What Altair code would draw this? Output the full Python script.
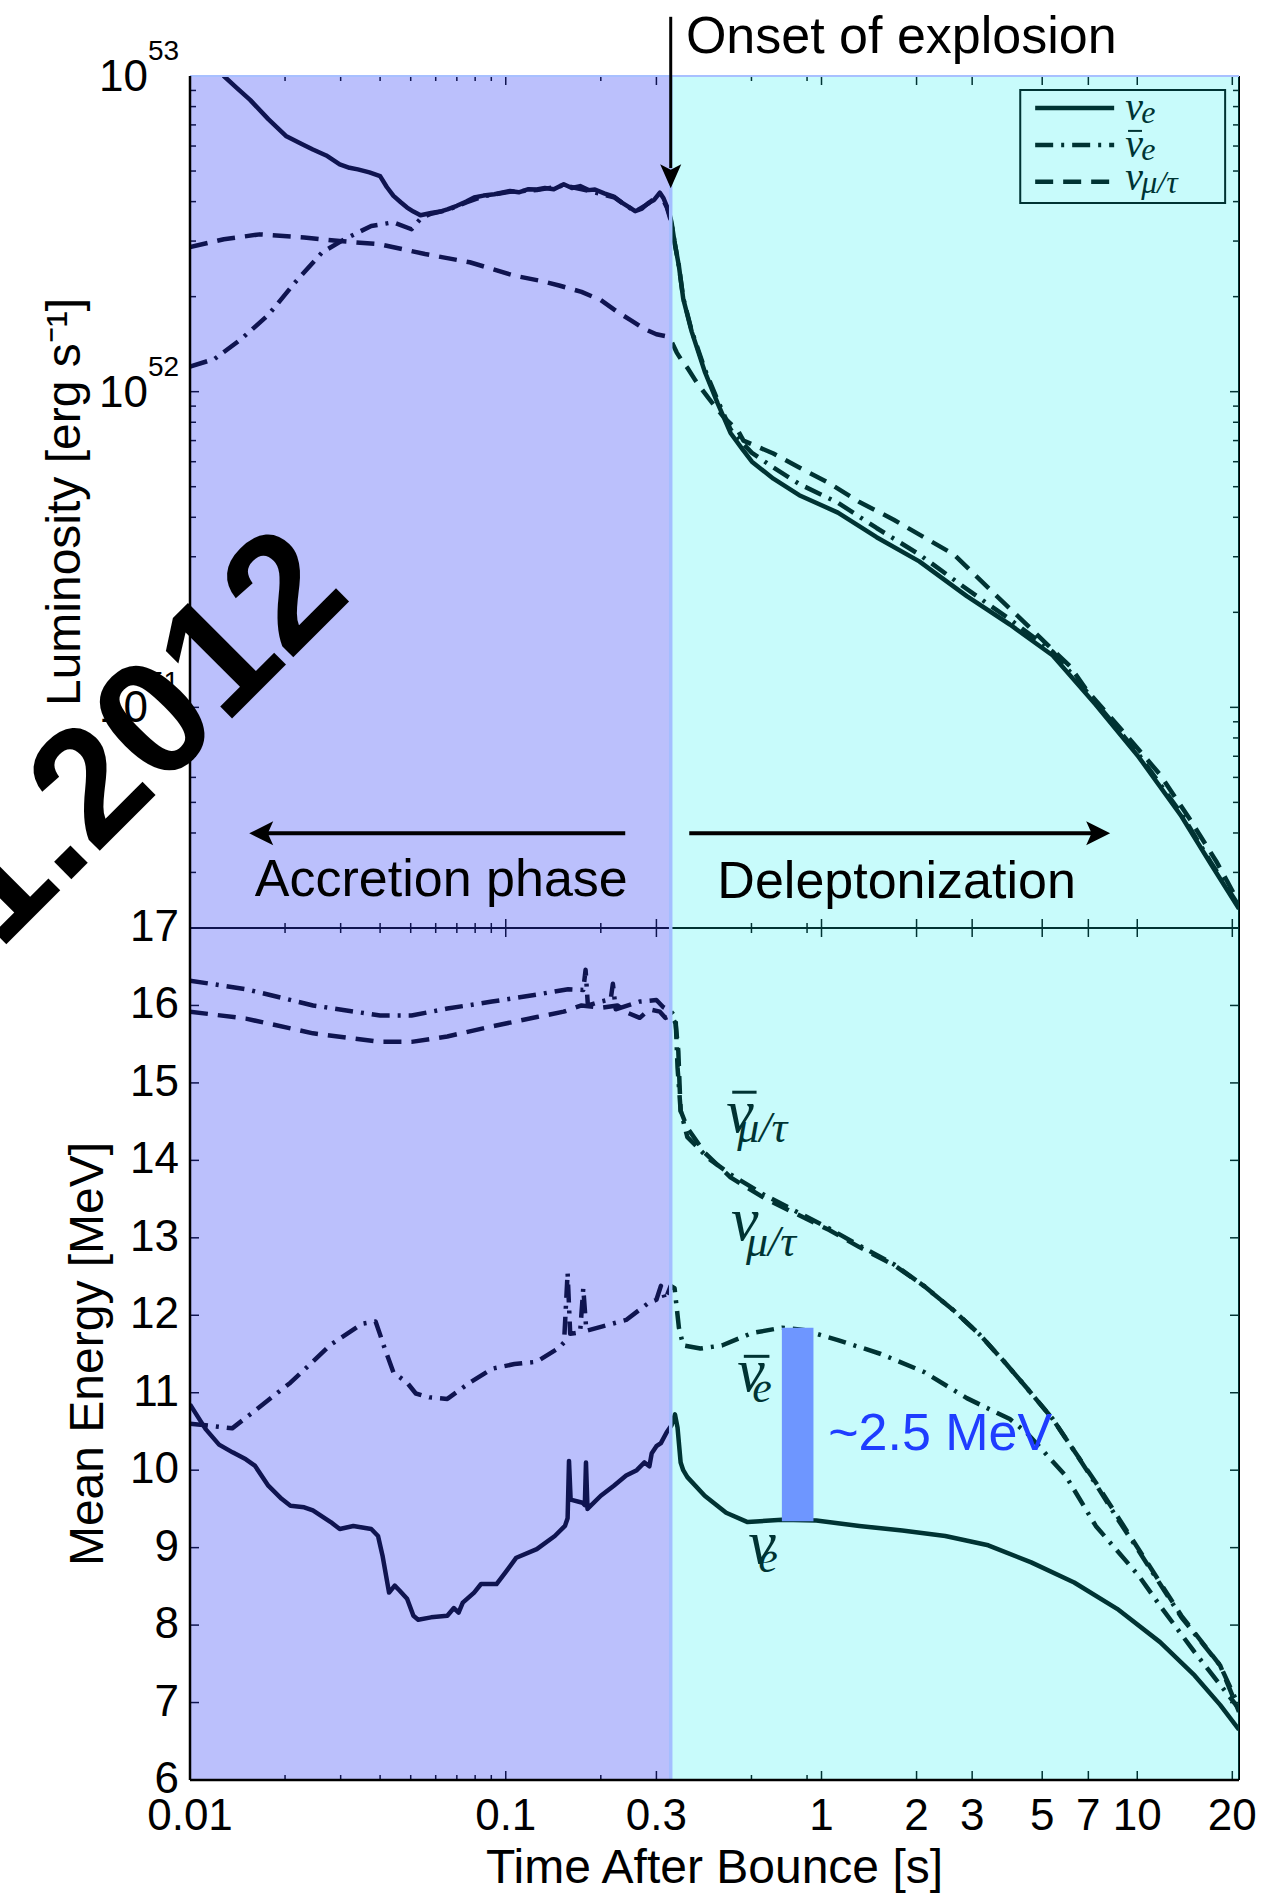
import altair as alt
import pandas as pd

SANS = "Liberation Sans"
SERIF = "Liberation Serif"

# ------------------------------------------------------------------ data
# Upper panel: time after bounce [s] and luminosity [10^52 erg/s]
lum_nue_t = [0.0100, 0.0128, 0.0140, 0.0155, 0.0177, 0.0202, 0.0225, 0.0245, 0.0270, 0.0298,
             0.0320, 0.0340, 0.0370, 0.0400, 0.0420, 0.0441, 0.0465, 0.0487, 0.0510, 0.0537,
             0.0580, 0.0620, 0.0653, 0.0700, 0.0750, 0.0794, 0.0850, 0.0920, 0.1031, 0.1100,
             0.1180, 0.1254, 0.1330, 0.1420, 0.1526, 0.1620, 0.1720, 0.1830, 0.1917, 0.2050,
             0.2200, 0.2332, 0.2450, 0.2570, 0.2700, 0.2836, 0.2950, 0.3077, 0.3160, 0.3234,
             0.3300, 0.3350, 0.3420, 0.3535, 0.3648, 0.3880, 0.4266, 0.4687, 0.5150, 0.5600,
             0.6020, 0.7040, 0.8500, 1.127, 1.494, 2.040, 2.885, 3.950, 5.400, 7.380,
             10.10, 13.80, 17.20, 21.00]
lum_nue = [12.9, 10.0, 9.2, 8.4, 7.3, 6.44, 6.1, 5.85, 5.6, 5.25,
           5.12, 5.06, 4.95, 4.82, 4.45, 4.17, 3.98, 3.83, 3.72, 3.62,
           3.68, 3.72, 3.78, 3.88, 4.0, 4.12, 4.18, 4.22, 4.32, 4.28,
           4.38, 4.37, 4.42, 4.38, 4.54, 4.42, 4.48, 4.35, 4.37, 4.25,
           4.15, 3.97, 3.85, 3.73, 3.80, 3.97, 4.05, 4.27, 4.10, 3.87,
           3.65, 3.44, 3.0, 2.5, 1.97, 1.55, 1.16, 0.92, 0.74, 0.66,
           0.60, 0.53, 0.47, 0.414, 0.346, 0.29, 0.225, 0.183, 0.146, 0.102,
           0.0697, 0.0452, 0.0316, 0.023]

lum_anue_t = [0.0100, 0.01197, 0.01456, 0.0177, 0.02153, 0.02618, 0.03083, 0.0375, 0.0441, 0.0503,
              0.0540, 0.0580, 0.0653, 0.0750, 0.0850, 0.1031, 0.1254, 0.1526, 0.1830, 0.2200,
              0.2570, 0.2836, 0.3077, 0.3234, 0.3350, 0.3420, 0.3535, 0.3648, 0.3880, 0.4266,
              0.4687, 0.5150, 0.5600, 0.6020, 0.7040, 0.8500, 1.127, 1.494, 2.040, 2.885,
              3.950, 5.400, 7.380, 10.10, 13.80, 17.20, 21.00]
lum_anue = [1.20, 1.27, 1.47, 1.75, 2.22, 2.76, 3.04, 3.35, 3.44, 3.27,
            3.55, 3.66, 3.76, 3.98, 4.16, 4.30, 4.35, 4.50, 4.33, 4.13,
            3.72, 3.95, 4.24, 3.85, 3.42, 3.0, 2.5, 1.98, 1.56, 1.18,
            0.94, 0.76, 0.69, 0.64, 0.575, 0.51, 0.445, 0.37, 0.305, 0.237,
            0.19, 0.15, 0.104, 0.071, 0.046, 0.032, 0.0235]

lum_nux_t = [0.0100, 0.0128, 0.0166, 0.0230, 0.0298, 0.0400, 0.0555, 0.0769, 0.1066, 0.1300,
             0.1476, 0.1738, 0.2000, 0.2257, 0.2500, 0.2745, 0.3000, 0.3200, 0.3350, 0.3480,
             0.3600, 0.3760, 0.4000, 0.4400, 0.4900, 0.5450, 0.5660, 0.7040, 0.8500, 1.058,
             1.318, 1.693, 2.108, 2.626, 3.070, 3.590, 4.340, 5.230, 6.120, 6.930,
             8.110, 9.480, 11.80, 14.70, 17.80, 21.00]
lum_nux = [2.87, 3.04, 3.15, 3.08, 3.00, 2.93, 2.73, 2.57, 2.33, 2.24,
           2.17, 2.07, 1.95, 1.79, 1.68, 1.58, 1.52, 1.50, 1.44, 1.33,
           1.26, 1.19, 1.08, 0.95, 0.83, 0.75, 0.70, 0.637, 0.575, 0.513,
           0.447, 0.393, 0.346, 0.305, 0.262, 0.225, 0.188, 0.157, 0.135, 0.113,
           0.0946, 0.0791, 0.0613, 0.0441, 0.0325, 0.024]

# Lower panel: time after bounce [s] and mean energy [MeV]
en_nue_t = [0.0100, 0.01121, 0.01236, 0.01364, 0.01503, 0.01604, 0.0177, 0.0195, 0.0208, 0.0230,
            0.0245, 0.0279, 0.0298, 0.0329, 0.0375, 0.0394, 0.0407, 0.0427, 0.0445, 0.0460,
            0.0487, 0.0510, 0.0528, 0.0580, 0.0653, 0.0685, 0.0709, 0.0731, 0.0794, 0.0835,
            0.0935, 0.0998, 0.1080, 0.1254, 0.1430, 0.1540, 0.1570, 0.1586, 0.1605, 0.1750,
            0.1780, 0.1795, 0.1815, 0.2000, 0.2200, 0.2406, 0.2600, 0.2750, 0.2850, 0.2900,
            0.3000, 0.3100, 0.3234, 0.3350, 0.3435, 0.3500, 0.3580, 0.3648, 0.3760, 0.4266,
            0.4989, 0.5834, 0.7500, 0.9630, 1.318, 1.803, 2.466, 3.373, 4.615, 6.313,
            8.635, 11.81, 15.19, 18.30, 21.00]
en_nue = [10.85, 10.53, 10.33, 10.23, 10.14, 10.06, 9.80, 9.63, 9.54, 9.52,
          9.48, 9.33, 9.24, 9.28, 9.24, 9.15, 8.90, 8.42, 8.51, 8.45,
          8.34, 8.12, 8.07, 8.10, 8.12, 8.22, 8.16, 8.29, 8.42, 8.53,
          8.53, 8.68, 8.87, 8.98, 9.15, 9.28, 9.38, 10.12, 9.62, 9.58,
          9.55, 10.10, 9.50, 9.67, 9.80, 9.93, 10.00, 10.10, 10.05, 10.22,
          10.31, 10.35, 10.49, 10.58, 10.72, 10.55, 10.10, 10.00, 9.91, 9.67,
          9.45, 9.33, 9.36, 9.35, 9.28, 9.22, 9.15, 9.03, 8.81, 8.55,
          8.21, 7.78, 7.35, 6.97, 6.65]

en_anue_t = [0.0100, 0.01121, 0.0136, 0.0155, 0.0208, 0.0279, 0.0351, 0.0387, 0.0400, 0.0413,
             0.0441, 0.0487, 0.0519, 0.0573, 0.0653, 0.0769, 0.0905, 0.1066, 0.1254, 0.1476,
             0.1530, 0.1570, 0.1600, 0.1720, 0.1760, 0.1800, 0.2000, 0.2406, 0.2836, 0.3000,
             0.3100, 0.3200, 0.3330, 0.3425, 0.3535, 0.3648, 0.4135, 0.4836, 0.6020, 0.7500,
             0.8770, 1.127, 1.542, 2.108, 2.885, 3.950, 4.470, 5.930, 7.390, 10.10,
             11.81, 15.19, 21.00]
en_anue = [10.60, 10.58, 10.54, 10.72, 11.13, 11.62, 11.89, 11.92, 11.75, 11.58,
           11.26, 11.13, 10.99, 10.94, 10.92, 11.13, 11.31, 11.37, 11.40, 11.58,
           11.65, 12.55, 11.76, 11.78, 12.35, 11.80, 11.85, 11.94, 12.16, 12.20,
           12.38, 12.20, 12.38, 12.35, 11.84, 11.61, 11.57, 11.61, 11.77, 11.84,
           11.81, 11.68, 11.50, 11.27, 10.93, 10.66, 10.48, 9.93, 9.28, 8.64,
           8.25, 7.65, 6.92]

en_anux_t = [0.0100, 0.01503, 0.02453, 0.0400, 0.0503, 0.0653, 0.0905, 0.1254, 0.1576, 0.1760,
             0.1790, 0.1820, 0.2000, 0.2150, 0.2184, 0.2230, 0.2657, 0.3000, 0.3150, 0.3340,
             0.3450, 0.3500, 0.3580, 0.3760, 0.4400, 0.5150, 0.6610, 0.8500, 1.058, 1.318,
             1.693, 2.108, 2.626, 3.170, 3.830, 4.470, 5.400, 6.310, 7.390, 8.635,
             10.10, 11.81, 13.80, 18.30, 21.00]
en_anux = [16.32, 16.21, 16.00, 15.87, 15.87, 15.96, 16.05, 16.14, 16.21, 16.20,
           16.46, 16.00, 16.05, 16.08, 16.28, 15.95, 16.05, 16.07, 15.98, 15.92,
           15.85, 15.20, 14.64, 14.30, 14.02, 13.82, 13.55, 13.32, 13.12, 12.90,
           12.66, 12.38, 12.06, 11.75, 11.38, 11.06, 10.66, 10.25, 9.82, 9.38,
           8.96, 8.53, 8.10, 7.48, 6.95]

en_nux_t = [0.0100, 0.01503, 0.02453, 0.0400, 0.0503, 0.0653, 0.0905, 0.1254, 0.1526, 0.1738,
            0.2000, 0.2257, 0.2450, 0.2657, 0.2850, 0.3077, 0.3200, 0.3340, 0.3450, 0.3520,
            0.3550, 0.3580, 0.3760, 0.4266, 0.5150, 0.6610, 0.8500, 1.058, 1.318, 1.693,
            2.108, 2.626, 3.170, 3.830, 4.470, 5.400, 6.310, 7.390, 8.635, 10.10,
            11.81, 13.80, 18.30, 21.00]
en_nux = [15.92, 15.83, 15.64, 15.53, 15.53, 15.60, 15.73, 15.85, 15.92, 16.00,
          15.97, 16.00, 15.90, 15.84, 15.95, 15.92, 15.84, 15.87, 15.77, 15.41,
          15.00, 14.64, 14.42, 14.10, 13.78, 13.51, 13.29, 13.10, 12.88, 12.65,
          12.38, 12.06, 11.75, 11.38, 11.06, 10.66, 10.25, 9.84, 9.41, 8.98,
          8.55, 8.12, 7.48, 6.88]

x_tick_values = [0.01, 0.1, 0.3, 1, 2, 3, 5, 7, 10, 20]
x_tick_labels = ["0.01", "0.1", "0.3", "1", "2", "3", "5", "7", "10", "20"]
x_minor_values = [0.02, 0.03, 0.04, 0.05, 0.06, 0.07, 0.08, 0.09, 0.2, 0.6, 0.9]
lum_exponents = [53, 52, 51]
lum_minor_values = [3e50, 4e50, 5e50, 6e50, 7e50, 8e50, 9e50,
                    2e51, 3e51, 4e51, 5e51, 6e51, 7e51, 8e51, 9e51,
                    2e52, 3e52, 4e52, 5e52, 6e52, 7e52, 8e52, 9e52]
energy_values = [6, 7, 8, 9, 10, 11, 12, 13, 14, 15, 16, 17]

t_explosion = 0.333
t_range = [0.01, 21.0]
lum_range = [2.0e50, 1.0e53]
energy_range = [6, 17]
UNIT52 = 1e52

# ------------------------------------------------------------------ geometry / scales
W = 1049
HP = 852
H = 2 * HP

xs = alt.Scale(type="log", domain=t_range, nice=False)
ys_top = alt.Scale(type="log", domain=lum_range, range=[HP, 0], nice=False)
ys_bot = alt.Scale(type="linear", domain=energy_range, range=[H, HP], nice=False, zero=False)

DASH = [18, 10]
DASHDOT = [18, 8, 3, 8]


def one():
    return pd.DataFrame({"k": [0]})


def X(field="t"):
    return alt.X(f"{field}:Q", scale=xs, axis=None)


def Y(field, sc):
    return alt.Y(f"{field}:Q", scale=sc, axis=None)


def curve(t, v, sc, dash=None, mult=1.0):
    df = pd.DataFrame({"t": t, "v": [a * mult for a in v]})
    props = dict(color="black", strokeWidth=4.5, clip=True, strokeJoin="round")
    if dash is not None:
        props["strokeDash"] = dash
    return alt.Chart(df).mark_line(**props).encode(x=X(), y=Y("v", sc))


layers = []

# ---- data curves (drawn black, tinted by the translucent phase patches on top)
layers.append(curve(en_nue_t, en_nue, ys_bot))
layers.append(curve(en_anue_t, en_anue, ys_bot, dash=DASHDOT))
layers.append(curve(en_anux_t, en_anux, ys_bot, dash=DASHDOT))
layers.append(curve(en_nux_t, en_nux, ys_bot, dash=DASH))
layers.append(curve(lum_nux_t, lum_nux, ys_top, dash=DASH, mult=UNIT52))
layers.append(curve(lum_anue_t, lum_anue, ys_top, dash=DASHDOT, mult=UNIT52))
layers.append(curve(lum_nue_t, lum_nue, ys_top, mult=UNIT52))


def txt(df, size, xf="t", yf="v", sc=ys_bot, font=SANS, italic=False, align="left",
        baseline="alphabetic", color="black", **kw):
    props = dict(font=font, fontSize=size, align=align, baseline=baseline, color=color)
    if italic:
        props["fontStyle"] = "italic"
    props.update(kw)
    return alt.Chart(df).mark_text(**props).encode(x=X(xf), y=Y(yf, sc), text="s:N")


def bars(df, sc, width):
    return alt.Chart(df).mark_rule(color="black", strokeWidth=width).encode(
        x=X("t0"), x2="t1:Q", y=Y("v", sc))


# ---- curve labels in the lower panel
nu_lab = pd.DataFrame({"t": [0.4992, 0.5164, 0.5409, 0.586],
                       "v": [14.37, 12.97, 11.02, 8.80],
                       "s": ["\u03bd", "\u03bd", "\u03bd", "\u03bd"]})
nu_sub = pd.DataFrame({"t": [0.5409, 0.5762, 0.6035, 0.6305],
                       "v": [14.24, 12.76, 10.88, 8.68],
                       "s": ["\u03bc/\u03c4", "\u03bc/\u03c4", "e", "e"]})
nu_bar = pd.DataFrame({"t0": [0.5215, 0.5675], "t1": [0.6228, 0.684], "v": [14.88, 11.47]})
layers.append(txt(nu_lab, 62, font=SERIF, italic=True))
layers.append(txt(nu_sub, 44, font=SERIF, italic=True))
layers.append(bars(nu_bar, ys_bot, 3))

# ---- legend (upper panel, top right)
leg_box = pd.DataFrame({"t0": [4.26], "t1": [18.98], "L0": [9.03e52], "L1": [3.96e52]})
layers.append(alt.Chart(leg_box).mark_rect(fillOpacity=0, stroke="black", strokeWidth=2).encode(
    x=X("t0"), x2="t1:Q", y=Y("L0", ys_top), y2="L1:Q"))
leg_rows = [(7.92e52, None), (6.05e52, DASHDOT), (4.62e52, DASH)]
for Lrow, dash in leg_rows:
    d = pd.DataFrame({"t0": [4.75], "t1": [8.45], "L": [Lrow]})
    props = dict(color="black", strokeWidth=4.5)
    if dash is not None:
        props["strokeDash"] = dash
    layers.append(alt.Chart(d).mark_rule(**props).encode(x=X("t0"), x2="t1:Q", y=Y("L", ys_top)))
leg_nu = pd.DataFrame({"t": [9.16, 9.16, 9.16], "v": [7.26e52, 5.54e52, 4.36e52],
                       "s": ["\u03bd", "\u03bd", "\u03bd"]})
leg_sub = pd.DataFrame({"t": [10.3, 10.3, 10.3], "v": [7.1e52, 5.42e52, 4.26e52],
                        "s": ["e", "e", "\u03bc/\u03c4"]})
leg_bar = pd.DataFrame({"t0": [9.35], "t1": [10.35], "v": [6.7e52]})
layers.append(txt(leg_nu, 40, sc=ys_top, font=SERIF, italic=True))
layers.append(txt(leg_sub, 32, sc=ys_top, font=SERIF, italic=True))
layers.append(bars(leg_bar, ys_top, 2))


# ---- inward ticks
def xticks(vals, length, y0, direction):
    df = pd.DataFrame({"t": vals})
    return alt.Chart(df).mark_rule(color="black", strokeWidth=1.5).encode(
        x=X(), y=alt.value(y0), y2=alt.value(y0 + direction * length))


def yticks(vals, length, sc, side):
    df = pd.DataFrame({"v": vals})
    x0 = 0 if side == "left" else W
    x1 = length if side == "left" else W - length
    return alt.Chart(df).mark_rule(color="black", strokeWidth=1.5).encode(
        y=Y("v", sc), x=alt.value(x0), x2=alt.value(x1))


for y0, direc in [(0, 1), (HP, -1), (HP, 1), (H, -1)]:
    layers.append(xticks(x_tick_values, 9, y0, direc))
    layers.append(xticks(x_minor_values, 5, y0, direc))
for side in ["left", "right"]:
    layers.append(yticks([10.0 ** e for e in lum_exponents], 9, ys_top, side))
    layers.append(yticks(lum_minor_values, 6, ys_top, side))
    layers.append(yticks(energy_values[1:-1], 9, ys_bot, side))

# frame lines under the patches
layers.append(alt.Chart(one()).mark_rule(color="black", strokeWidth=2).encode(
    x=alt.value(W), y=alt.value(0), y2=alt.value(H)))
layers.append(alt.Chart(one()).mark_rule(color="black", strokeWidth=2).encode(
    x=alt.value(0), x2=alt.value(W), y=alt.value(HP)))

# ---- translucent phase patches
acc = pd.DataFrame({"t0": [t_range[0]], "t1": [t_explosion]})
dep = pd.DataFrame({"t0": [t_explosion], "t1": [t_range[1]]})
layers.append(alt.Chart(acc).mark_rect(color="rgb(46,62,246)", opacity=0.325).encode(
    x=X("t0"), x2="t1:Q", y=alt.value(0), y2=alt.value(H)))
layers.append(alt.Chart(dep).mark_rect(color="rgb(0,237,237)", opacity=0.215).encode(
    x=X("t0"), x2="t1:Q", y=alt.value(0), y2=alt.value(H)))
bnd = pd.DataFrame({"t": [t_explosion]})
layers.append(alt.Chart(bnd).mark_rule(color="#A4BEFF", strokeWidth=3.5).encode(
    x=X(), y=alt.value(0), y2=alt.value(H)))

# frame lines above the patches
layers.append(alt.Chart(one()).mark_rule(color="#A8C0FF", strokeWidth=2).encode(
    x=alt.value(0), x2=alt.value(W), y=alt.value(0)))
layers.append(alt.Chart(one()).mark_rule(color="black", strokeWidth=2.5).encode(
    x=alt.value(0), y=alt.value(0), y2=alt.value(H)))
layers.append(alt.Chart(one()).mark_rule(color="black", strokeWidth=2.5).encode(
    x=alt.value(0), x2=alt.value(W), y=alt.value(H)))

# ---- 2.5 MeV gap marker
gap = pd.DataFrame({"t0": [0.749], "t1": [0.943], "e0": [9.34], "e1": [11.84]})
layers.append(alt.Chart(gap).mark_rect(color="#6E96FF").encode(
    x=X("t0"), x2="t1:Q", y=Y("e0", ys_bot), y2="e1:Q"))
gap_lab = pd.DataFrame({"t": [1.050], "v": [10.26], "s": ["~2.5 MeV"]})
layers.append(txt(gap_lab, 52, color="#1F3DFF"))

# ---- arrows and phase annotations (upper panel)
onset = pd.DataFrame({"t": [0.372], "v": [1.18e53], "s": ["Onset of explosion"]})
layers.append(txt(onset, 52, sc=ys_top))
varrow = pd.DataFrame({"t": [t_explosion], "L1": [1.54e53], "L2": [5.11e52]})
layers.append(alt.Chart(varrow).mark_rule(color="black", strokeWidth=3).encode(
    x=X(), y=Y("L1", ys_top), y2="L2:Q"))
vhead = pd.DataFrame({"t": [t_explosion], "L": [4.81e52]})
layers.append(alt.Chart(vhead).mark_point(shape="M0,1L-0.88,-1L0,-0.55L0.88,-1Z", filled=True,
                                          color="black", opacity=1, size=576, strokeWidth=0).encode(
    x=X(), y=Y("L", ys_top)))

harrows = pd.DataFrame({"t0": [0.239, 0.3812], "t1": [0.01744, 7.20], "L": [3.99e50, 3.99e50]})
layers.append(alt.Chart(harrows).mark_rule(color="black", strokeWidth=4).encode(
    x=X("t0"), x2="t1:Q", y=Y("L", ys_top)))
lhead = pd.DataFrame({"t": [0.01681], "L": [3.99e50]})
rhead = pd.DataFrame({"t": [7.52], "L": [3.99e50]})
layers.append(alt.Chart(lhead).mark_point(shape="M-1,0L1,-1L0.55,0L1,1Z", filled=True, color="black",
                                          opacity=1, size=576, strokeWidth=0).encode(
    x=X(), y=Y("L", ys_top)))
layers.append(alt.Chart(rhead).mark_point(shape="M1,0L-1,-1L-0.55,0L-1,1Z", filled=True, color="black",
                                          opacity=1, size=576, strokeWidth=0).encode(
    x=X(), y=Y("L", ys_top)))
phase_lab = pd.DataFrame({"t": [0.0625, 1.729], "v": [2.52e50, 2.49e50],
                          "s": ["Accretion phase", "Deleptonization"]})
layers.append(txt(phase_lab, 52, sc=ys_top, align="center"))

# ---- axis tick labels and titles drawn as text
xlab_df = pd.DataFrame({"t": x_tick_values, "s": x_tick_labels})
layers.append(alt.Chart(xlab_df).mark_text(font=SANS, fontSize=44, align="center", baseline="top",
                                           color="black").encode(
    x=X(), y=alt.value(H + 15), text="s:N"))
layers.append(alt.Chart(one()).mark_text(font=SANS, fontSize=48, align="center",
                                         baseline="alphabetic", color="black").encode(
    x=alt.value(W / 2), y=alt.value(H + 103), text=alt.value("Time After Bounce [s]")))

exp_df = pd.DataFrame({"L": [10.0 ** e for e in lum_exponents],
                       "b": ["10"] * len(lum_exponents),
                       "e": [str(e) for e in lum_exponents]})
layers.append(alt.Chart(exp_df).mark_text(font=SANS, fontSize=44, align="right", baseline="middle",
                                          dy=2, color="black").encode(
    x=alt.value(-42), y=Y("L", ys_top), text="b:N"))
layers.append(alt.Chart(exp_df).mark_text(font=SANS, fontSize=28, align="left", baseline="middle",
                                          dy=-24, color="black").encode(
    x=alt.value(-42), y=Y("L", ys_top), text="e:N"))
en_df = pd.DataFrame({"v": energy_values, "s": [str(v) for v in energy_values]})
layers.append(alt.Chart(en_df).mark_text(font=SANS, fontSize=44, align="right", baseline="middle",
                                         color="black").encode(
    x=alt.value(-11), y=Y("v", ys_bot), text="s:N"))
layers.append(alt.Chart(one()).mark_text(font=SANS, fontSize=48, angle=270, align="center",
                                         baseline="alphabetic", color="black").encode(
    x=alt.value(-110), y=alt.value(HP / 2), text=alt.value("Luminosity [erg s\u207b\u00b9]")))
layers.append(alt.Chart(one()).mark_text(font=SANS, fontSize=48, angle=270, align="center",
                                         baseline="alphabetic", color="black").encode(
    x=alt.value(-87), y=alt.value(HP + HP / 2), text=alt.value("Mean Energy [MeV]")))

# ---- stamp across the lower left of the upper panel
stamp = pd.DataFrame({"t": [0.0330], "v": [2.24e51], "s": ["1.2012"]})
layers.append(txt(stamp, 164, sc=ys_top, align="right", angle=315, fontWeight="bold"))

chart = alt.layer(*layers).resolve_scale(y="independent").properties(
    width=W, height=H,
    autosize=alt.AutoSizeParams(type="none"),
    padding={"left": 190, "top": 76, "right": 33, "bottom": 113},
    background="white",
).configure_view(stroke=None)

chart.save("out.html", embed_options={"renderer": "svg", "actions": False})
